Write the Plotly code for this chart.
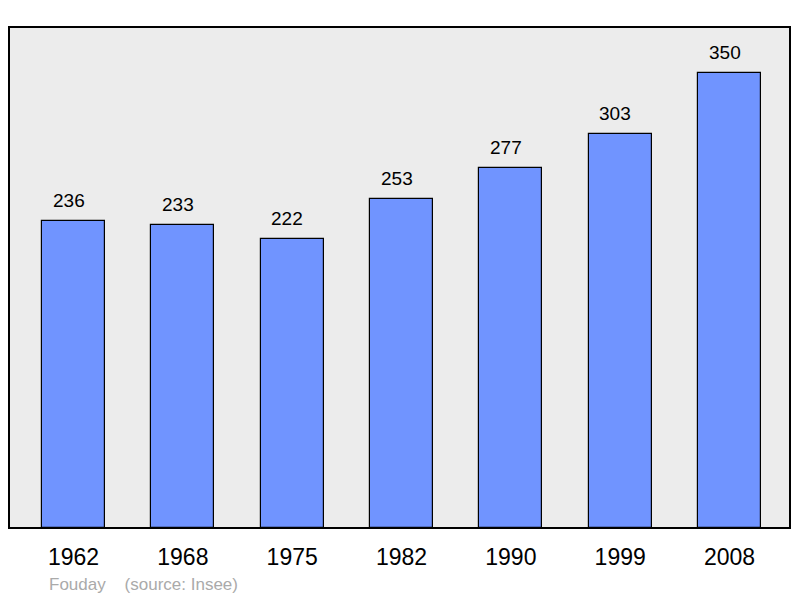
import plotly.graph_objects as go

years = ["1962", "1968", "1975", "1982", "1990", "1999", "2008"]
population = [236, 233, 222, 253, 277, 303, 350]
place = "Fouday"
source = "(source: Insee)"

xs = list(range(len(years)))
FONT = "Liberation Sans, Arial, sans-serif"

fig = go.Figure()
fig.add_trace(go.Bar(
    x=xs, y=population, width=0.576,
    marker=dict(color="#7094ff", line=dict(color="#000000", width=1.2)),
    hoverinfo="skip",
))

for x, v in zip(xs, population):
    fig.add_annotation(x=x, y=v, text=str(v), showarrow=False, yanchor="bottom",
                       yshift=8, xshift=-5, font=dict(size=19, color="#000000", family=FONT))

fig.add_annotation(xref="paper", yref="paper", x=0.049, y=-0.1118, xanchor="left", yanchor="middle",
                   text=place + "\u00a0\u00a0\u00a0\u00a0" + source, showarrow=False,
                   font=dict(size=17, color="#aaaaaa", family=FONT))

fig.add_shape(type="rect", xref="paper", yref="paper", x0=0, y0=0, x1=1, y1=1,
              line=dict(color="#000000", width=2), layer="above")

fig.update_layout(
    width=792, height=590,
    margin=dict(l=1, r=10, t=19, b=70),
    paper_bgcolor="#ffffff", plot_bgcolor="#ececec",
    showlegend=False,
    bargap=0,
    xaxis=dict(range=[-0.59, 6.553], tickmode="array", tickvals=xs, ticktext=years,
               showgrid=False, zeroline=False, showline=False, ticks="",
               tickfont=dict(size=23, color="#000000", family=FONT),
               ticklabelstandoff=13, fixedrange=True),
    yaxis=dict(range=[0, 385.4], showgrid=False, zeroline=False, showticklabels=False,
               showline=False, ticks="", fixedrange=True),
)

fig.write_html("out.html")
